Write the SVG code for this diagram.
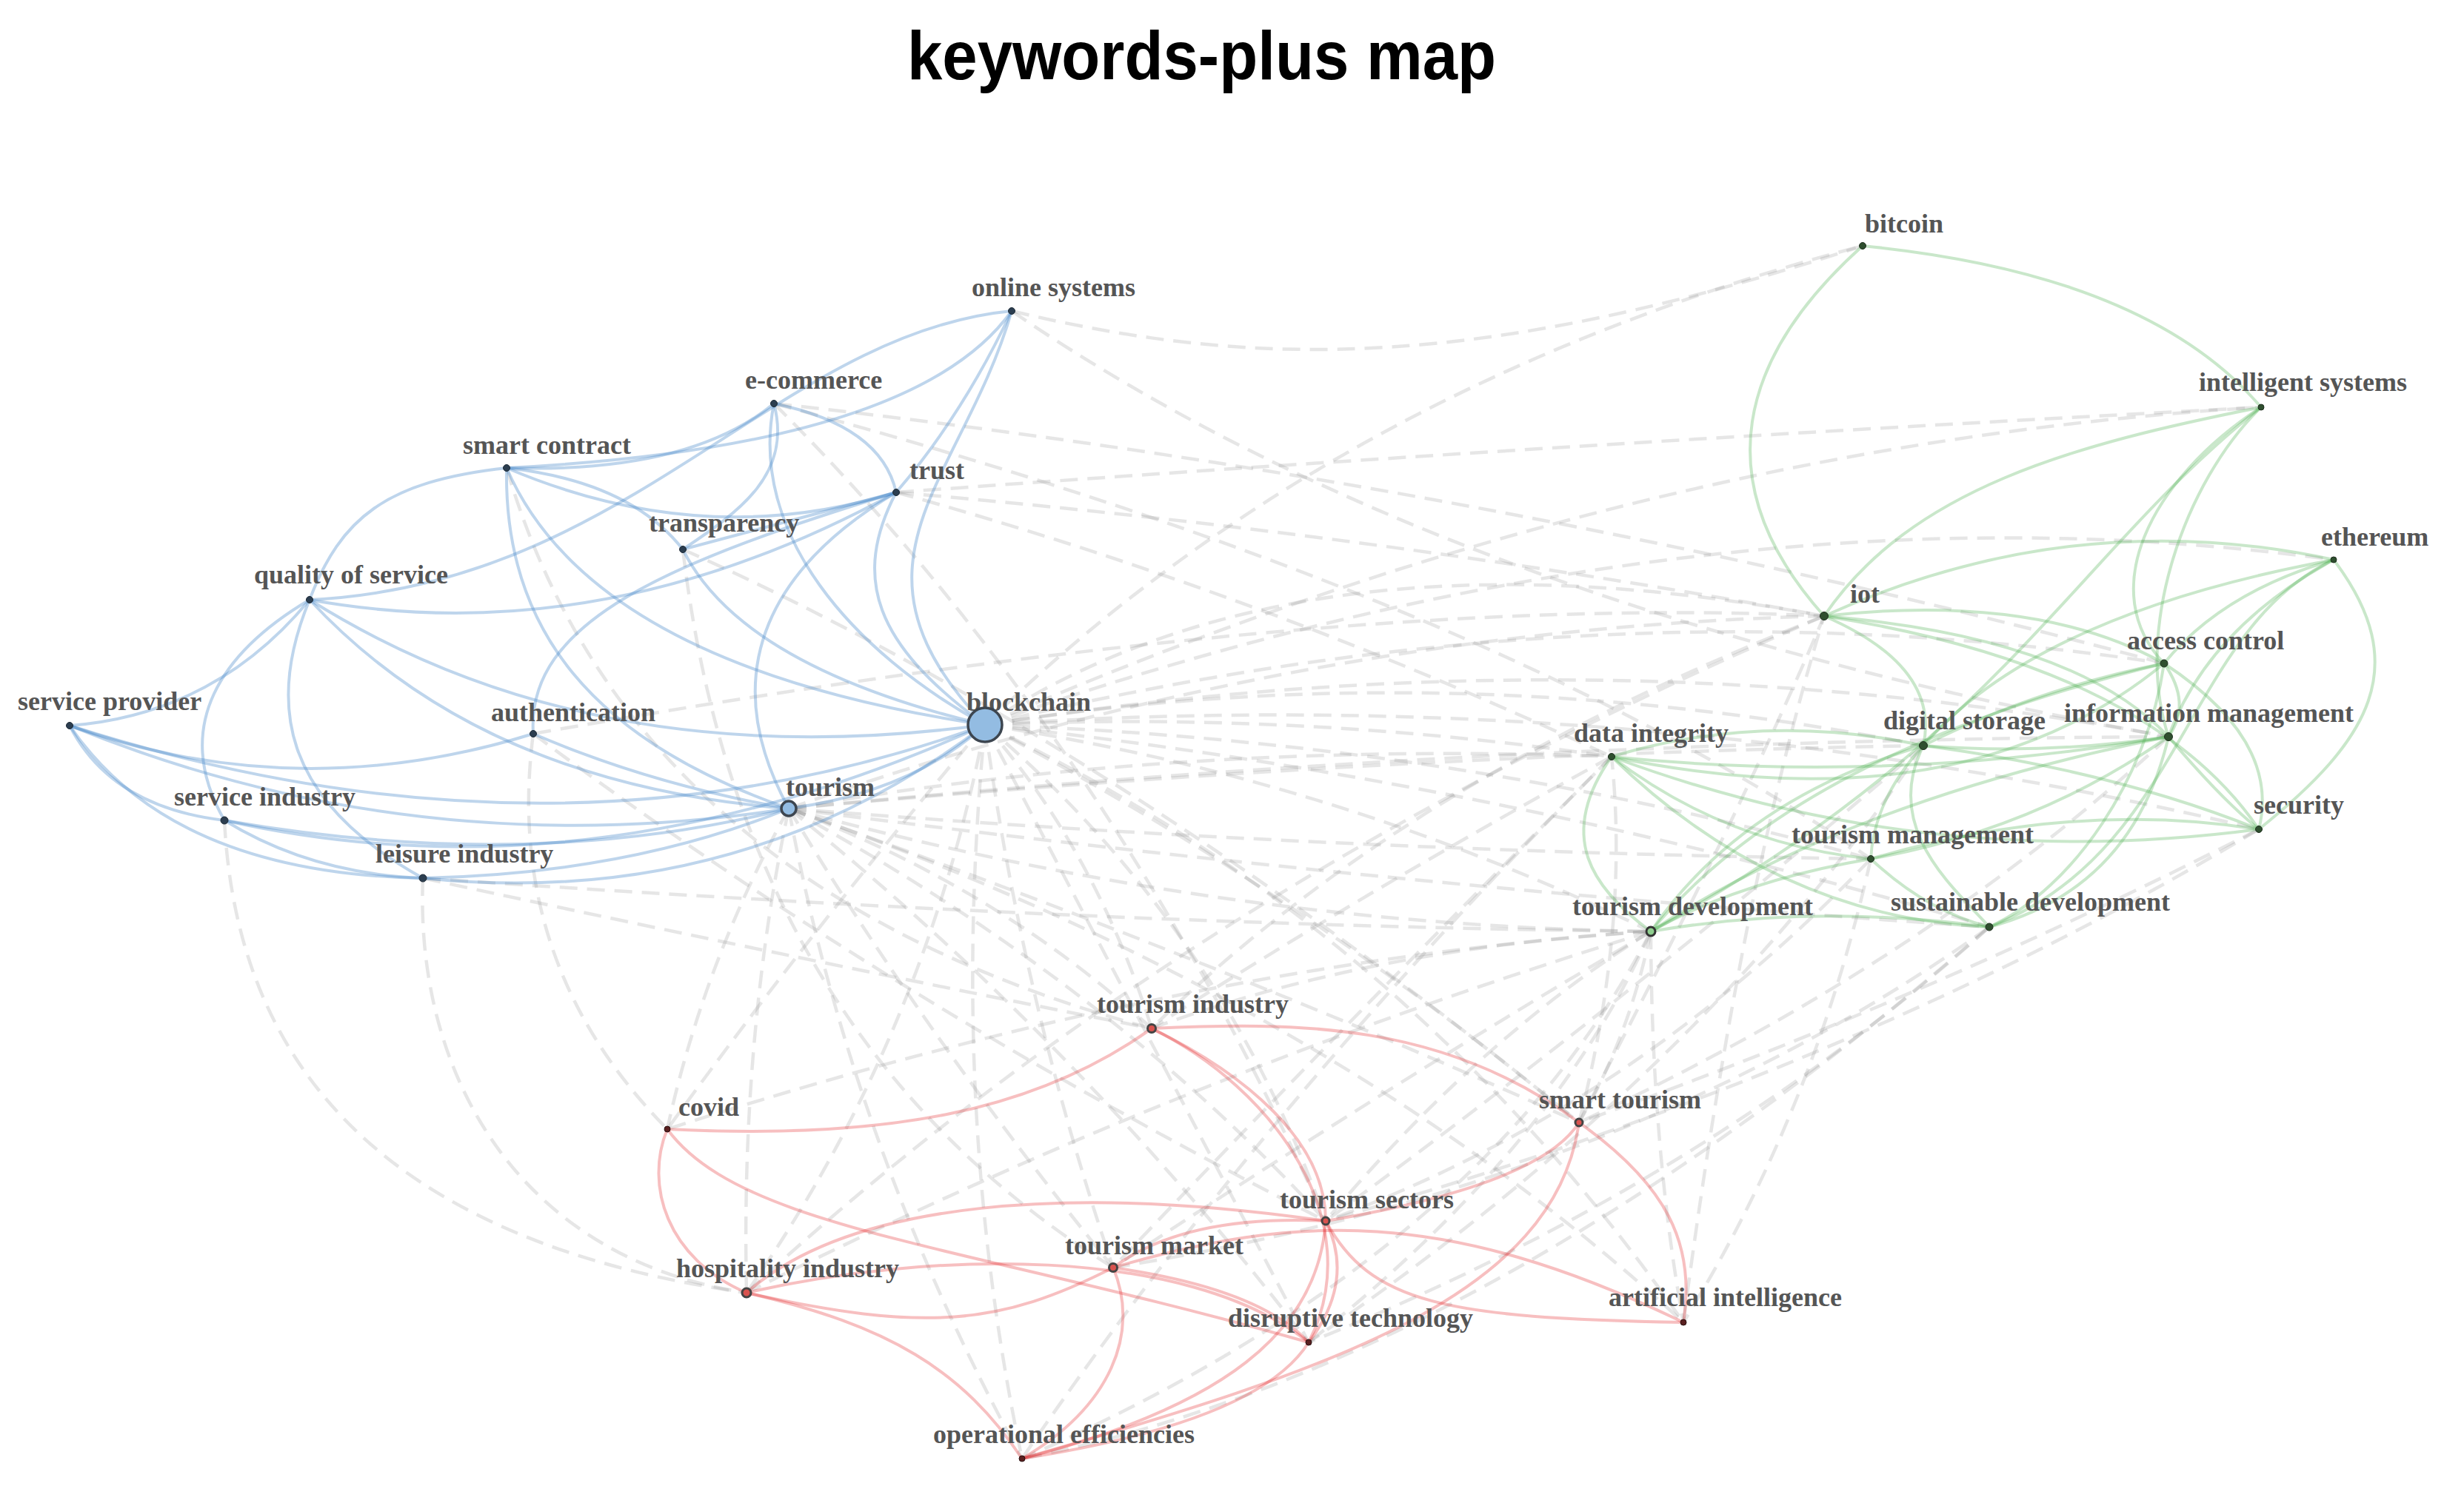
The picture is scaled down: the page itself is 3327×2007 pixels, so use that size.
<svg xmlns="http://www.w3.org/2000/svg" width="3327" height="2007" viewBox="0 0 3327 2007">
<style>
.b{fill:none;stroke:#4A8AC9;stroke-opacity:0.36;stroke-width:4}
.g{fill:none;stroke:#4CAF50;stroke-opacity:0.3;stroke-width:4}
.r{fill:none;stroke:#E41A1C;stroke-opacity:0.28;stroke-width:4}
.d{fill:none;stroke:#8c8c8c;stroke-opacity:0.22;stroke-width:4.5;stroke-dasharray:24 13}
.l{font-family:"Liberation Serif","Times New Roman",serif;font-weight:bold;font-size:36px;fill:#555}
.nb{fill:#2c3e50;stroke:#1d2a36;stroke-width:1}
.ng{fill:#2f4f2f;stroke:#1f2f1f;stroke-width:1}
.nr{fill:#5a2020;stroke:#2a1010;stroke-width:1}
.nrb{fill:#d9534f;stroke:#444;stroke-width:3}
.big{fill:#93bce2;stroke:#3d4650;stroke-width:3.5}
</style>
<rect width="3327" height="2007" fill="#ffffff"/>
<text x="1225" y="107" font-family="Liberation Sans, Arial, sans-serif" font-weight="bold" font-size="92" textLength="795" lengthAdjust="spacingAndGlyphs" fill="#000">keywords-plus map</text>
<g id="connectors">
<g id="dashed">
<path class="d" d="M1330,979 Q1800,520 2515,332"/>
<path class="d" d="M1330,979 Q2300,640 3151,756"/>
<path class="d" d="M1330,979 Q1750,700 2463,832"/>
<path class="d" d="M1330,979 Q2150,780 2922,896"/>
<path class="d" d="M1330,979 Q2150,850 2928,995"/>
<path class="d" d="M1330,979 Q1950,880 2597,1007"/>
<path class="d" d="M1330,979 Q1750,960 2176,1022"/>
<path class="d" d="M1330,979 Q2200,920 3050,1120"/>
<path class="d" d="M1330,979 Q1950,1000 2526,1160"/>
<path class="d" d="M1330,979 Q1800,1050 2229,1258"/>
<path class="d" d="M1330,979 Q2000,1050 2686,1252"/>
<path class="d" d="M1330,979 Q1480,1150 1555,1389"/>
<path class="d" d="M1330,979 Q1100,1250 901,1525"/>
<path class="d" d="M1330,979 Q1750,1200 2132,1516"/>
<path class="d" d="M1330,979 Q1650,1250 1790,1649"/>
<path class="d" d="M1330,979 Q1380,1350 1503,1712"/>
<path class="d" d="M1330,979 Q1250,1400 1008,1746"/>
<path class="d" d="M1330,979 Q1550,1400 1767,1813"/>
<path class="d" d="M1330,979 Q1900,1250 2273,1786"/>
<path class="d" d="M1330,979 Q1280,1500 1380,1970"/>
<path class="d" d="M1330,979 Q2200,600 3053,550"/>
<path class="d" d="M1065,1092 Q1650,1250 2229,1258"/>
<path class="d" d="M1065,1092 Q1800,1150 2526,1160"/>
<path class="d" d="M1065,1092 Q1600,1000 2176,1022"/>
<path class="d" d="M1065,1092 Q1850,1020 2597,1007"/>
<path class="d" d="M1065,1092 Q1750,850 2463,832"/>
<path class="d" d="M1065,1092 Q2000,1000 2928,995"/>
<path class="d" d="M1065,1092 Q1350,1200 1555,1389"/>
<path class="d" d="M1065,1092 Q1650,1300 2132,1516"/>
<path class="d" d="M1065,1092 Q1500,1330 1790,1649"/>
<path class="d" d="M1065,1092 Q1250,1400 1503,1712"/>
<path class="d" d="M1065,1092 Q1000,1400 1008,1746"/>
<path class="d" d="M1065,1092 Q1450,1400 1767,1813"/>
<path class="d" d="M1065,1092 Q1800,1350 2273,1786"/>
<path class="d" d="M1065,1092 Q1150,1550 1380,1970"/>
<path class="d" d="M1065,1092 Q1900,1200 2686,1252"/>
<path class="d" d="M1065,1092 Q950,1300 901,1525"/>
<path class="d" d="M1366,420 C1700,500 2000,500 2515,332"/>
<path class="d" d="M1366,420 Q1950,820 2928,995"/>
<path class="d" d="M1045,545 Q2000,650 2922,896"/>
<path class="d" d="M1210,665 Q2100,600 3053,550"/>
<path class="d" d="M1210,665 Q1850,720 2463,832"/>
<path class="d" d="M720,991 Q1800,800 2463,832"/>
<path class="d" d="M303,1108 Q330,1650 1008,1746"/>
<path class="d" d="M571,1186 C560,1450 700,1700 1008,1746"/>
<path class="d" d="M720,991 Q680,1300 901,1525"/>
<path class="d" d="M720,991 Q1200,1350 1790,1649"/>
<path class="d" d="M922,742 Q1000,1400 1503,1712"/>
<path class="d" d="M922,742 Q1500,1000 2132,1516"/>
<path class="d" d="M1045,545 Q1500,1000 1790,1649"/>
<path class="d" d="M1045,545 Q2000,800 2526,1160"/>
<path class="d" d="M1210,665 Q1700,800 2176,1022"/>
<path class="d" d="M571,1186 Q1500,1250 2229,1258"/>
<path class="d" d="M571,1186 Q1100,1300 1555,1389"/>
<path class="d" d="M684,632 Q850,1200 1555,1389"/>
<path class="d" d="M2229,1258 Q1850,1280 1555,1389"/>
<path class="d" d="M2229,1258 Q2000,1400 1790,1649"/>
<path class="d" d="M2229,1258 Q1900,1450 1503,1712"/>
<path class="d" d="M2229,1258 Q2100,1550 1767,1813"/>
<path class="d" d="M2229,1258 Q2000,1700 1380,1970"/>
<path class="d" d="M2229,1258 Q1600,1450 1008,1746"/>
<path class="d" d="M2229,1258 Q1600,1300 901,1525"/>
<path class="d" d="M2229,1258 Q2200,1400 2132,1516"/>
<path class="d" d="M2229,1258 Q2230,1550 2273,1786"/>
<path class="d" d="M2463,832 Q1900,1050 1555,1389"/>
<path class="d" d="M2463,832 Q1600,1200 1008,1746"/>
<path class="d" d="M2176,1022 Q1850,1200 1555,1389"/>
<path class="d" d="M2176,1022 Q1800,1400 1503,1712"/>
<path class="d" d="M2597,1007 Q2200,1350 1790,1649"/>
<path class="d" d="M2597,1007 Q2300,1450 1767,1813"/>
<path class="d" d="M2928,995 Q2600,1300 2132,1516"/>
<path class="d" d="M2686,1252 Q2000,1850 1380,1970"/>
<path class="d" d="M3050,1120 Q2600,1350 2132,1516"/>
<path class="d" d="M2686,1252 Q2300,1600 1767,1813"/>
<path class="d" d="M2526,1160 Q2200,1500 1790,1649"/>
<path class="d" d="M2526,1160 Q2450,1500 2273,1786"/>
<path class="d" d="M2686,1252 Q2200,1600 1503,1712"/>
<path class="d" d="M3050,1120 Q2500,1450 1790,1649"/>
<path class="d" d="M2273,1786 Q2350,1200 2463,832"/>
<path class="d" d="M2132,1516 Q2350,1100 2463,832"/>
<path class="d" d="M2132,1516 Q2200,1250 2176,1022"/>
<path class="d" d="M1380,1970 Q1700,1500 2176,1022"/>
</g>
<g id="blue-links">
<path class="b" d="M684,632 Q930,640 1045,545"/>
<path class="b" d="M684,632 Q1235,604 1366,420"/>
<path class="b" d="M418,810 C850,790 1050,450 1366,420"/>
<path class="b" d="M1045,545 C1010,720 1150,880 1330,979"/>
<path class="b" d="M1045,545 C1070,640 1000,690 922,742"/>
<path class="b" d="M1045,545 Q1190,575 1210,665"/>
<path class="b" d="M684,632 Q950,745 1210,665"/>
<path class="b" d="M684,632 Q800,900 1330,979"/>
<path class="b" d="M684,632 Q850,650 922,742"/>
<path class="b" d="M922,742 Q1000,900 1330,979"/>
<path class="b" d="M684,632 C680,850 800,1000 1065,1092"/>
<path class="b" d="M1210,665 Q814,882 418,810"/>
<path class="b" d="M720,991 C710,840 900,760 1210,665"/>
<path class="b" d="M1210,665 C1050,760 960,900 1065,1092"/>
<path class="b" d="M1210,665 C1150,780 1180,870 1330,979"/>
<path class="b" d="M1366,420 C1300,650 1120,760 1330,979"/>
<path class="b" d="M1366,420 Q1300,560 1210,665"/>
<path class="b" d="M418,810 C460,700 520,650 684,632"/>
<path class="b" d="M418,810 Q800,1050 1330,979"/>
<path class="b" d="M418,810 Q650,1060 1065,1092"/>
<path class="b" d="M418,810 Q290,965 94,980"/>
<path class="b" d="M418,810 C300,880 230,980 303,1108"/>
<path class="b" d="M418,810 C360,950 380,1080 571,1186"/>
<path class="b" d="M94,980 Q400,1090 720,991"/>
<path class="b" d="M94,980 Q750,1190 1330,979"/>
<path class="b" d="M94,980 Q560,1170 1065,1092"/>
<path class="b" d="M94,980 Q230,1180 571,1186"/>
<path class="b" d="M94,980 Q150,1090 303,1108"/>
<path class="b" d="M303,1108 Q420,1180 571,1186"/>
<path class="b" d="M303,1108 Q716,1180 1065,1092"/>
<path class="b" d="M303,1108 Q800,1220 1330,979"/>
<path class="b" d="M571,1186 Q850,1180 1065,1092"/>
<path class="b" d="M571,1186 Q1000,1230 1330,979"/>
<path class="b" d="M720,991 Q880,1060 1065,1092"/>
<path class="b" d="M1065,1092 Q1230,1070 1330,979"/>
<path class="b" d="M922,742 Q1080,700 1210,665"/>
</g>
<g id="green-links">
<path class="g" d="M2515,332 Q2900,370 3053,550"/>
<path class="g" d="M2515,332 C2350,480 2300,650 2463,832"/>
<path class="g" d="M3053,550 C2800,600 2580,660 2463,832"/>
<path class="g" d="M3053,550 C2900,650 2830,800 2922,896"/>
<path class="g" d="M3053,550 C2950,650 2880,850 2928,995"/>
<path class="g" d="M3053,550 C2800,750 2700,1000 2229,1258"/>
<path class="g" d="M3151,756 Q2800,680 2463,832"/>
<path class="g" d="M3151,756 Q2750,830 2597,1007"/>
<path class="g" d="M3151,756 Q3000,800 2922,896"/>
<path class="g" d="M3151,756 Q2980,850 2928,995"/>
<path class="g" d="M3151,756 C3260,900 3200,1000 3050,1120"/>
<path class="g" d="M3151,756 C2950,850 2950,1150 2686,1252"/>
<path class="g" d="M2463,832 Q2750,800 2922,896"/>
<path class="g" d="M2463,832 Q2800,860 2928,995"/>
<path class="g" d="M2463,832 Q2620,900 2597,1007"/>
<path class="g" d="M2463,832 Q2900,900 3050,1120"/>
<path class="g" d="M2922,896 Q2750,930 2597,1007"/>
<path class="g" d="M2922,896 Q2650,1120 2176,1022"/>
<path class="g" d="M2922,896 Q2960,950 2928,995"/>
<path class="g" d="M2922,896 Q3080,1000 3050,1120"/>
<path class="g" d="M2922,896 C2700,950 2400,1050 2229,1258"/>
<path class="g" d="M2922,896 C2900,1050 2800,1200 2686,1252"/>
<path class="g" d="M2928,995 Q2760,1020 2597,1007"/>
<path class="g" d="M2928,995 Q2550,1060 2176,1022"/>
<path class="g" d="M2928,995 Q2500,1080 2229,1258"/>
<path class="g" d="M2928,995 Q3000,1080 3050,1120"/>
<path class="g" d="M2928,995 Q2750,1120 2526,1160"/>
<path class="g" d="M2928,995 Q2880,1200 2686,1252"/>
<path class="g" d="M2597,1007 Q2380,960 2176,1022"/>
<path class="g" d="M2597,1007 Q2350,1080 2229,1258"/>
<path class="g" d="M2597,1007 Q2530,1080 2526,1160"/>
<path class="g" d="M2597,1007 C2540,1120 2640,1200 2686,1252"/>
<path class="g" d="M2597,1007 Q2850,1040 3050,1120"/>
<path class="g" d="M2176,1022 C2100,1130 2150,1200 2229,1258"/>
<path class="g" d="M2176,1022 Q2330,1140 2526,1160"/>
<path class="g" d="M2176,1022 Q2400,1240 2686,1252"/>
<path class="g" d="M2176,1022 Q2600,1180 3050,1120"/>
<path class="g" d="M2526,1160 Q2350,1190 2229,1258"/>
<path class="g" d="M2526,1160 Q2600,1230 2686,1252"/>
<path class="g" d="M2526,1160 Q2800,1080 3050,1120"/>
<path class="g" d="M2229,1258 Q2450,1220 2686,1252"/>
</g>
<g id="red-links">
<path class="r" d="M1555,1389 C1400,1500 1200,1540 901,1525"/>
<path class="r" d="M1555,1389 C1750,1380 1950,1380 2132,1516"/>
<path class="r" d="M1555,1389 C1680,1450 1790,1540 1790,1649"/>
<path class="r" d="M1555,1389 C1720,1470 1850,1650 1767,1813"/>
<path class="r" d="M901,1525 C870,1600 900,1700 1008,1746"/>
<path class="r" d="M901,1525 C1000,1660 1300,1680 1767,1813"/>
<path class="r" d="M1008,1746 C1150,1620 1450,1600 1790,1649"/>
<path class="r" d="M1008,1746 C1250,1690 1600,1680 1767,1813"/>
<path class="r" d="M1008,1746 C1250,1800 1350,1790 1503,1712"/>
<path class="r" d="M1008,1746 C1200,1790 1300,1850 1380,1970"/>
<path class="r" d="M1503,1712 Q1600,1640 1790,1649"/>
<path class="r" d="M1503,1712 C1750,1640 1950,1630 2273,1786"/>
<path class="r" d="M1503,1712 C1540,1800 1500,1900 1380,1970"/>
<path class="r" d="M1503,1712 Q1700,1740 1767,1813"/>
<path class="r" d="M1790,1649 Q2080,1600 2132,1516"/>
<path class="r" d="M1790,1649 C1850,1760 1950,1780 2273,1786"/>
<path class="r" d="M1790,1649 C1780,1800 1650,1900 1380,1970"/>
<path class="r" d="M1790,1649 Q1830,1730 1767,1813"/>
<path class="r" d="M2132,1516 C2250,1600 2290,1680 2273,1786"/>
<path class="r" d="M2132,1516 C2100,1750 1800,1850 1380,1970"/>
<path class="r" d="M1767,1813 Q1700,1920 1380,1970"/>
</g>
</g>
<g id="node-online-systems"><text class="l" x="1312" y="400">online systems</text><circle class="nb" cx="1366" cy="420" r="4.5"/></g>
<g id="node-e-commerce"><text class="l" x="1006" y="525">e-commerce</text><circle class="nb" cx="1045" cy="545" r="4.5"/></g>
<g id="node-smart-contract"><text class="l" x="625" y="613">smart contract</text><circle class="nb" cx="684" cy="632" r="4.5"/></g>
<g id="node-trust"><text class="l" x="1228" y="647">trust</text><circle class="nb" cx="1210" cy="665" r="4.5"/></g>
<g id="node-transparency"><text class="l" x="876" y="718">transparency</text><circle class="nb" cx="922" cy="742" r="4.5"/></g>
<g id="node-quality-of-service"><text class="l" x="343" y="788">quality of service</text><circle class="nb" cx="418" cy="810" r="4.5"/></g>
<g id="node-service-provider"><text class="l" x="24" y="959">service provider</text><circle class="nb" cx="94" cy="980" r="4.5"/></g>
<g id="node-authentication"><text class="l" x="663" y="974">authentication</text><circle class="nb" cx="720" cy="991" r="4.5"/></g>
<g id="node-service-industry"><text class="l" x="235" y="1088">service industry</text><circle class="nb" cx="303" cy="1108" r="5"/></g>
<g id="node-leisure-industry"><text class="l" x="507" y="1165">leisure industry</text><circle class="nb" cx="571" cy="1186" r="5"/></g>
<g id="node-tourism"><text class="l" x="1061" y="1075">tourism</text><circle class="big" cx="1065" cy="1092" r="10" stroke-width="3"/></g>
<g id="node-blockchain"><text class="l" x="1305" y="960">blockchain</text><circle class="big" cx="1330" cy="979" r="23"/></g>
<g id="node-bitcoin"><text class="l" x="2518" y="314">bitcoin</text><circle class="ng" cx="2515" cy="332" r="4.5"/></g>
<g id="node-intelligent-systems"><text class="l" x="2969" y="528">intelligent systems</text><circle class="ng" cx="3053" cy="550" r="4"/></g>
<g id="node-ethereum"><text class="l" x="3134" y="737">ethereum</text><circle class="ng" cx="3151" cy="756" r="4"/></g>
<g id="node-iot"><text class="l" x="2498" y="814">iot</text><circle class="ng" cx="2463" cy="832" r="5.5"/></g>
<g id="node-access-control"><text class="l" x="2872" y="877">access control</text><circle class="ng" cx="2922" cy="896" r="5"/></g>
<g id="node-information-management"><text class="l" x="2787" y="975">information management</text><circle class="ng" cx="2928" cy="995" r="5.5"/></g>
<g id="node-digital-storage"><text class="l" x="2543" y="985">digital storage</text><circle class="ng" cx="2597" cy="1007" r="5.5"/></g>
<g id="node-data-integrity"><text class="l" x="2125" y="1002">data integrity</text><circle class="ng" cx="2176" cy="1022" r="4.5"/></g>
<g id="node-security"><text class="l" x="3043" y="1099">security</text><circle class="ng" cx="3050" cy="1120" r="4.5"/></g>
<g id="node-tourism-management"><text class="l" x="2419" y="1139">tourism management</text><circle class="ng" cx="2526" cy="1160" r="4.5"/></g>
<g id="node-tourism-development"><text class="l" x="2123" y="1236">tourism development</text><circle cx="2229" cy="1258" r="6" fill="#8fcf8f" stroke="#333" stroke-width="3"/></g>
<g id="node-sustainable-development"><text class="l" x="2553" y="1230">sustainable development</text><circle class="ng" cx="2686" cy="1252" r="5"/></g>
<g id="node-tourism-industry"><text class="l" x="1481" y="1368">tourism industry</text><circle class="nrb" cx="1555" cy="1389" r="5.5"/></g>
<g id="node-covid"><text class="l" x="916" y="1507">covid</text><circle class="nr" cx="901" cy="1525" r="4"/></g>
<g id="node-smart-tourism"><text class="l" x="2078" y="1497">smart tourism</text><circle class="nrb" cx="2132" cy="1516" r="5"/></g>
<g id="node-tourism-sectors"><text class="l" x="1728" y="1632">tourism sectors</text><circle class="nrb" cx="1790" cy="1649" r="5"/></g>
<g id="node-tourism-market"><text class="l" x="1438" y="1694">tourism market</text><circle class="nrb" cx="1503" cy="1712" r="5.5"/></g>
<g id="node-hospitality-industry"><text class="l" x="913" y="1725">hospitality industry</text><circle class="nrb" cx="1008" cy="1746" r="6"/></g>
<g id="node-disruptive-technology"><text class="l" x="1658" y="1792">disruptive technology</text><circle class="nr" cx="1767" cy="1813" r="4"/></g>
<g id="node-artificial-intelligence"><text class="l" x="2172" y="1764">artificial intelligence</text><circle class="nr" cx="2273" cy="1786" r="4"/></g>
<g id="node-operational-efficiencies"><text class="l" x="1260" y="1949">operational efficiencies</text><circle class="nr" cx="1380" cy="1970" r="4"/></g>
</svg>
